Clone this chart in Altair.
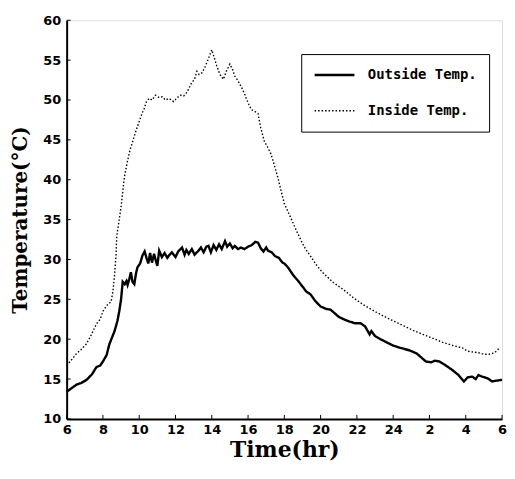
import altair as alt
import pandas as pd

# Time in hours (6 = 6 am, 30 = 6 am next day)
out_t = [6.0, 6.3, 6.55, 6.8, 7.1, 7.4, 7.64, 7.85, 8.0, 8.2, 8.36, 8.5, 8.64, 8.8, 8.9,
         9.0, 9.09, 9.2, 9.3, 9.36, 9.45, 9.54, 9.63, 9.73, 9.82, 9.9, 10.05, 10.18, 10.3,
         10.4, 10.5, 10.6, 10.7, 10.82, 10.92, 11.0, 11.1, 11.25, 11.4, 11.55, 11.64, 11.8,
         12.0, 12.15, 12.36, 12.5, 12.6, 12.73, 12.9, 13.05, 13.27, 13.4, 13.55, 13.7, 13.82,
         13.95, 14.1, 14.25, 14.4, 14.55, 14.73, 14.85, 15.0, 15.15, 15.27, 15.45, 15.6, 15.8,
         16.0, 16.2, 16.4, 16.55, 16.7, 16.85, 17.0, 17.1, 17.3, 17.5, 17.7, 17.9, 18.0, 18.2,
         18.5, 18.73, 19.0, 19.2, 19.45, 19.7, 20.0, 20.3, 20.55, 20.8, 21.0, 21.27, 21.6,
         21.9, 22.2, 22.45, 22.6, 22.7, 22.8, 23.0, 23.3, 23.64, 24.0, 24.4, 24.9, 25.3, 25.6,
         25.8, 26.1, 26.3, 26.55, 26.9, 27.28, 27.6, 27.9, 28.1, 28.35, 28.55, 28.7, 28.9,
         29.2, 29.45, 29.7, 30.0]
out_v = [13.4, 13.9, 14.3, 14.5, 14.9, 15.6, 16.5, 16.7, 17.2, 18.0, 19.4, 20.2, 21.0, 22.3, 23.5,
         25.0, 27.2, 26.9, 27.3, 26.8, 27.5, 28.4, 27.2, 26.9, 28.2, 29.0, 29.5, 30.5, 31.0,
         30.2, 29.5, 30.8, 29.6, 30.7, 29.8, 29.2, 31.1, 30.3, 30.8, 30.2, 30.5, 30.9,
         30.3, 31.0, 31.5, 30.6, 31.2, 30.7, 31.3, 30.6, 31.1, 31.5, 30.9, 31.6, 31.7,
         30.9, 31.8, 31.2, 31.9, 31.3, 32.3, 31.6, 32.0, 31.4, 31.7, 31.3, 31.5, 31.3,
         31.6, 31.8, 32.2, 32.1, 31.4, 31.0, 31.5, 31.1, 30.9, 30.4, 30.2, 29.6, 29.5, 29.0,
         28.0, 27.4, 26.6, 26.0, 25.6, 24.8, 24.1, 23.8, 23.7, 23.2, 22.8, 22.5, 22.2,
         22.0, 22.0, 21.6, 21.0, 20.6, 21.0, 20.4, 20.0, 19.6, 19.2, 18.9, 18.6, 18.2, 17.6,
         17.2, 17.1, 17.3, 17.2, 16.7, 16.1, 15.5, 14.7, 15.2, 15.3, 15.0, 15.5, 15.3,
         15.1, 14.7, 14.8, 14.9]

in_t = [6.0, 6.3, 6.55, 6.8, 7.09, 7.35, 7.64, 7.85, 8.0, 8.2, 8.45, 8.55, 8.64, 8.72, 8.76,
        8.82, 9.0, 9.18, 9.36, 9.5, 9.64, 9.8, 10.0, 10.15, 10.27, 10.4, 10.55, 10.7, 10.9,
        11.1, 11.27, 11.45, 11.64, 11.9, 12.1, 12.27, 12.45, 12.64, 12.9, 13.05, 13.18, 13.3,
        13.45, 13.6, 13.73, 13.85, 14.0, 14.15, 14.27, 14.45, 14.64, 14.8, 15.0, 15.15, 15.27,
        15.45, 15.64, 15.8, 15.9, 16.05, 16.18, 16.35, 16.55, 16.7, 16.9, 17.1, 17.27, 17.45,
        17.64, 17.8, 18.0, 18.2, 18.36, 18.55, 18.73, 19.0, 19.2, 19.45, 19.8, 20.18, 20.7,
        21.27, 21.8, 22.37, 22.9, 23.46, 24.0, 24.55, 25.1, 25.64, 26.2, 26.73, 27.3, 27.82,
        28.1, 28.35, 28.7, 29.0, 29.27, 29.6, 29.9]
in_v = [16.7, 17.5, 18.2, 18.7, 19.4, 20.5, 21.9, 22.5, 23.5, 24.2, 24.7, 26.0, 28.0, 30.5, 32.9,
        33.8, 36.6, 40.3, 42.4, 43.8, 44.8, 46.0, 47.3, 48.3, 48.9, 49.8, 50.2, 50.0, 50.6,
        50.3, 50.4, 50.0, 50.2, 49.8, 50.3, 50.6, 50.5, 51.0, 52.2, 52.6, 53.6, 53.2,
        53.4, 54.0, 54.7, 55.4, 56.3, 55.2, 54.3, 53.2, 52.6, 53.6, 54.5, 53.8, 53.0,
        52.4, 51.6, 50.8, 50.2, 49.4, 48.8, 48.6, 48.3, 46.5, 44.8, 44.0, 43.2, 41.8,
        40.3, 38.8, 37.0, 36.0, 35.2, 34.2, 33.3, 32.0, 31.2, 30.4, 29.2, 28.2, 27.1,
        26.2, 25.2, 24.3, 23.6, 22.9, 22.3, 21.7, 21.1, 20.6, 20.1, 19.6, 19.2, 18.9,
        18.5, 18.4, 18.3, 18.1, 18.1, 18.3, 19.0]

series_names = ["Outside Temp.", "Inside Temp."]
x_ticks = list(range(6, 31, 2))
y_ticks = list(range(10, 61, 5))

df = pd.concat([
    pd.DataFrame({"t": out_t, "v": out_v, "series": series_names[0]}),
    pd.DataFrame({"t": in_t, "v": in_v, "series": series_names[1]}),
])

W, H = 438, 401

xs = alt.Scale(domain=[6, 30], nice=False, zero=False)
ys = alt.Scale(domain=[10, 60], nice=False, zero=False)

legend = alt.Legend(
    title=None, orient="none", legendX=236, legendY=34,
    symbolType="stroke", symbolSize=1600, symbolStrokeColor="black",
    symbolStrokeWidth=2, clipHeight=18, rowPadding=18, padding=12,
    labelOffset=12, labelFont="DejaVu Sans Mono", labelFontWeight="bold",
    labelFontSize=14, labelColor="black", strokeColor="black",
    labelLimit=300,
)

axis_common = dict(grid=False, ticks=False, tickSize=0, domainColor="black", domainWidth=2,
                   labelFont="DejaVu Sans", labelFontWeight="bold", labelFontSize=13,
                   labelColor="black", titleFont="DejaVu Serif", titleFontWeight="bold",
                   titleColor="black", labelFlush=False, labelOverlap=False)

x_axis = alt.Axis(title="Time(hr)", values=x_ticks,
                  labelExpr="datum.value > 24 ? datum.value - 24 : datum.value",
                  labelPadding=5, titlePadding=3, titleFontSize=22, **axis_common)
y_axis = alt.Axis(title="Temperature(°C)", values=y_ticks, labelPadding=6,
                  titlePadding=12, titleFontSize=20, **axis_common)

lines = alt.Chart(df).mark_line().encode(
    x=alt.X("t:Q", scale=xs, axis=x_axis),
    y=alt.Y("v:Q", scale=ys, axis=y_axis),
    color=alt.Color("series:N", scale=alt.Scale(domain=series_names, range=["black", "black"]),
                    legend=legend),
    strokeDash=alt.StrokeDash("series:N",
                              scale=alt.Scale(domain=series_names, range=[[1, 0], [1.5, 2]]),
                              legend=legend),
    strokeWidth=alt.StrokeWidth("series:N",
                                scale=alt.Scale(domain=series_names, range=[2.4, 1.4]),
                                legend=None),
)

xt = alt.Chart(pd.DataFrame({"t": x_ticks})).mark_rule(color="black", strokeWidth=1).encode(
    x=alt.X("t:Q", scale=xs, axis=x_axis), y=alt.value(H), y2=alt.value(H - 4))
yt = alt.Chart(pd.DataFrame({"v": y_ticks})).mark_rule(color="black", strokeWidth=1).encode(
    y=alt.Y("v:Q", scale=ys, axis=y_axis), x=alt.value(0), x2=alt.value(4))

chart = alt.layer(lines, xt, yt).properties(
    width=W, height=H,
    padding={"left": 2, "top": 5, "right": 0, "bottom": 0},
).configure_view(stroke="black", strokeWidth=2).configure(background="white")

chart.save("out.html", embed_options={"renderer": "svg", "actions": False})
